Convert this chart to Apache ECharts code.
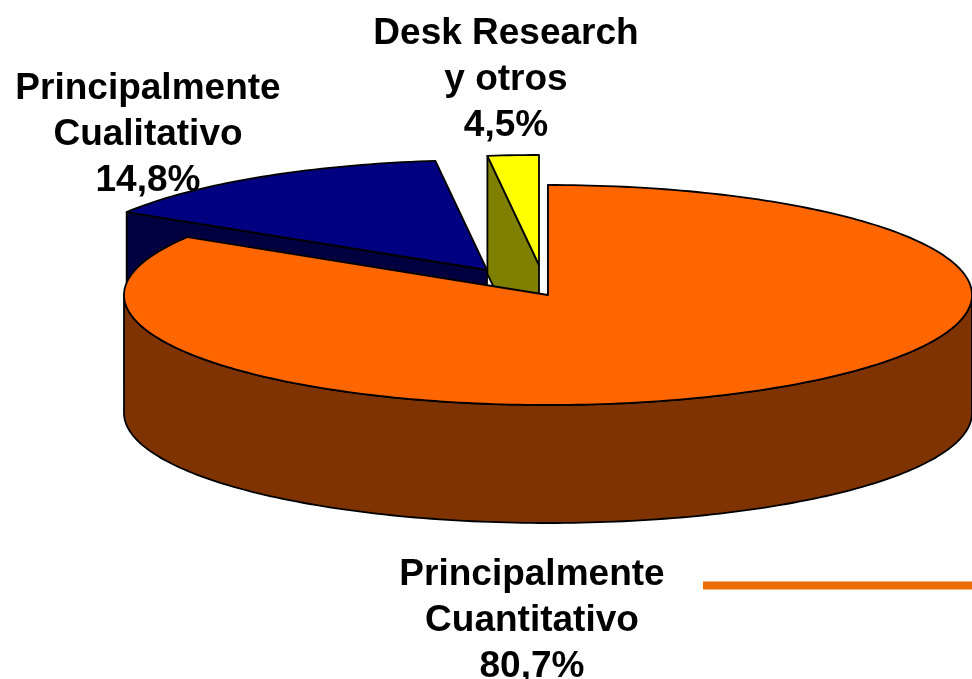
<!DOCTYPE html>
<html>
<head>
<meta charset="utf-8">
<style>
  html, body { margin: 0; padding: 0; background: #fff; }
  #chart { width: 972px; height: 679px; }
</style>
<script src="https://cdn.jsdelivr.net/npm/echarts@6/dist/echarts.min.js"></script>
</head>
<body>
<div id="chart"></div>
<script>
// clockwise from 12 o'clock
const categories = ['Principalmente\nCuantitativo', 'Principalmente\nCualitativo', 'Desk Research\ny otros'];
const shares = [80.7, 14.8, 4.5];

const topColors = ['#FF6600', '#000080', '#FFFF00'];
const sideColors = ['#7F3300', '#000040', '#808000'];
const sliceShift = [[0, 0], [-61, -25], [-9, -30]]; // pulled out of the pie
const labelCenters = [[532, 621], [148, 135], [506, 80]];
const zBySlice = [30, 10, 20]; // orange sits in front

const cx = 548, cy = 295, rx = 424, ry = 110, depth = 118;
const tilt = 0.3; // foreshortening of the pie when it is laid back

const total = shares.reduce((a, b) => a + b, 0);

// angle on the drawn ellipse for a real pie angle
function toEllipse(a) {
  return a - tilt * Math.sin(2 * a);
}
function rim(c, t, dy) {
  return [c[0] + rx * Math.sin(t), c[1] - ry * Math.cos(t) + (dy || 0)];
}
function arc(c, t0, t1, dy) {
  const pts = [];
  const n = Math.max(2, Math.ceil(Math.abs(t1 - t0) / 0.02));
  for (let i = 0; i <= n; i++) pts.push(rim(c, t0 + (t1 - t0) * i / n, dy));
  return pts;
}

function renderSlice(params, api) {
  const i = params.dataIndex;
  const before = shares.slice(0, i).reduce((a, b) => a + b, 0);
  const value = api.value(0);
  const t0 = toEllipse(before / total * Math.PI * 2);
  const t1 = toEllipse((before + value) / total * Math.PI * 2);
  const c = [cx + sliceShift[i][0], cy + sliceShift[i][1]];
  const line = { stroke: '#000', lineWidth: 1.8, lineJoin: 'round' };
  const z = zBySlice[i];
  const children = [];

  // cut face on the start edge of the slice
  const s = rim(c, t0);
  children.push({
    type: 'polygon', z2: z,
    shape: { points: [s, c, [c[0], c[1] + depth], [s[0], s[1] + depth]] },
    style: Object.assign({ fill: sideColors[i] }, line)
  });

  // outer wall, only the front half of the pie shows it
  const w0 = Math.max(t0, Math.PI / 2), w1 = Math.min(t1, Math.PI * 1.5);
  if (w1 > w0) {
    children.push({
      type: 'polygon', z2: z + 1,
      shape: { points: arc(c, w0, w1).concat(arc(c, w1, w0, depth)) },
      style: Object.assign({ fill: sideColors[i] }, line)
    });
  }

  // top face
  children.push({
    type: 'polygon', z2: z + 2,
    shape: { points: [c].concat(arc(c, t0, t1)) },
    style: Object.assign({ fill: topColors[i] }, line)
  });

  // label
  children.push({
    type: 'text', z2: 100,
    x: labelCenters[i][0], y: labelCenters[i][1],
    style: {
      text: api.value(1) + '\n' + value.toFixed(1).replace('.', ',') + '%',
      fill: '#000',
      font: 'bold 37px "Liberation Sans", Arial, sans-serif',
      lineHeight: 46,
      align: 'center',
      verticalAlign: 'middle'
    }
  });

  return { type: 'group', children: children };
}

const chart = echarts.init(document.getElementById('chart'), null, { renderer: 'canvas' });
chart.setOption({
  animation: false,
  backgroundColor: '#fff',
  series: [{
    type: 'custom',
    coordinateSystem: 'none',
    renderItem: renderSlice,
    data: shares.map((v, i) => [v, categories[i]]),
    silent: true
  }],
  graphic: [{
    type: 'line',
    shape: { x1: 703, y1: 585.5, x2: 972, y2: 585.5 },
    style: { stroke: '#E96D03', lineWidth: 8 }
  }]
});
</script>
</body>
</html>
